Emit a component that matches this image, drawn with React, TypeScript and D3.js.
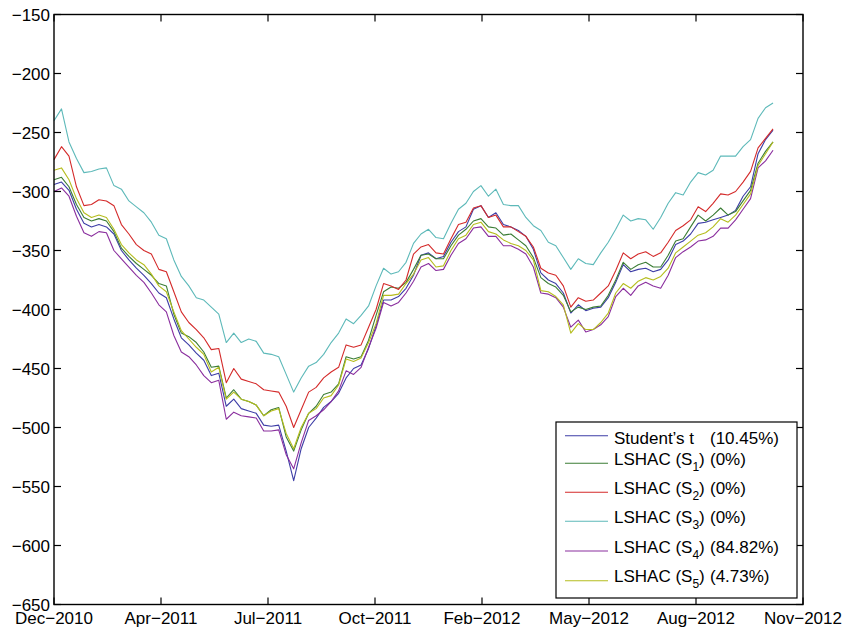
import React from "react";
import * as d3 from "d3";

// weekly samples, first one on the Dec-2010 tick
const startDate = Date.UTC(2010, 11, 30);
const DAY = 864e5;
const stepDays = 7;
const tickStepDays = 100;

const xTickLabels = ["Dec−2010", "Apr−2011", "Jul−2011", "Oct−2011", "Feb−2012", "May−2012", "Aug−2012", "Nov−2012"];
const yTickValues = [-650, -600, -550, -500, -450, -400, -350, -300, -250, -200, -150];

const studentT = [
  -294, -292, -299, -315, -327, -330, -328, -330, -336, -350,
  -358, -365, -371, -378, -386, -390, -408, -424, -430, -437,
  -443, -456, -454, -482, -476, -484, -486, -488, -498, -499,
  -498, -520, -545, -518, -500, -492, -483, -478, -471, -458,
  -450, -447, -433, -414, -392, -392, -389, -382, -371, -354,
  -352, -357, -355, -343, -334, -330, -315, -312, -322, -318,
  -328, -330, -333, -338, -349, -369, -375, -378, -386, -403,
  -396, -401, -399, -398, -390, -377, -362, -368, -366, -365,
  -368, -366, -358, -345, -342, -336, -327, -326, -324, -322,
  -320, -316, -304, -296, -268, -256, -248,
];
const lshacS1 = [
  -290, -288, -296, -311, -322, -325, -323, -325, -334, -348,
  -355, -361, -366, -371, -378, -380, -404, -420, -423, -428,
  -436, -449, -448, -475, -468, -476, -478, -481, -490, -485,
  -483, -508, -520, -502, -488, -482, -472, -470, -463, -440,
  -442, -440, -426, -405, -385, -381, -382, -377, -366, -354,
  -353, -357, -357, -346, -337, -332, -325, -323, -330, -331,
  -337, -336, -341, -346, -356, -373, -378, -381, -388, -402,
  -398, -400, -398, -397, -388, -375, -360, -366, -362, -360,
  -364, -364, -354, -342, -340, -330, -320, -325, -320, -314,
  -320, -317, -308, -299, -276, -266, -258,
];
const lshacS2 = [
  -273, -262, -270, -296, -312, -311, -307, -308, -312, -328,
  -336, -345, -350, -353, -366, -368, -385, -402, -411, -417,
  -424, -434, -433, -462, -450, -459, -461, -463, -468, -469,
  -470, -482, -500, -485, -470, -466, -458, -453, -449, -430,
  -432, -430, -415, -400, -378, -380, -383, -375, -353, -347,
  -345, -352, -353, -340, -328, -326, -314, -312, -322, -320,
  -330, -330, -334, -338, -347, -365, -369, -371, -380, -398,
  -390, -393, -392, -386, -380, -367, -352, -357, -353, -351,
  -355, -352, -343, -333, -329, -324, -313, -317, -310, -302,
  -303, -300, -292, -283, -263, -255, -247,
];
const lshacS3 = [
  -240, -230, -258, -272, -284, -283, -281, -280, -295, -298,
  -308, -313, -318, -326, -337, -340, -358, -372, -380, -390,
  -392, -398, -404, -428, -420, -428, -425, -427, -437, -438,
  -440, -455, -470, -458, -448, -445, -438, -428, -420, -408,
  -412, -405, -397, -380, -365, -370, -368, -360, -344, -336,
  -332, -339, -340, -327, -315, -310, -300, -295, -304, -298,
  -311, -312, -312, -322, -329, -333, -343, -346, -356, -366,
  -357, -361, -362, -352, -343, -332, -320, -325, -323, -324,
  -332, -322, -310, -301, -303, -292, -284, -286, -282, -270,
  -270, -270, -262, -256, -238, -229, -225,
];
const lshacS4 = [
  -300, -297, -304, -321, -335, -338, -334, -335, -350, -357,
  -364, -371, -377, -386, -396, -402, -422, -436, -440, -447,
  -456, -462, -460, -493, -487, -490, -491, -492, -503, -503,
  -502, -523, -535, -513, -494, -490, -485, -478, -469, -452,
  -455, -449, -432, -416, -394, -397, -394, -386, -376, -364,
  -361, -367, -366, -354, -344, -340, -331, -330, -338, -338,
  -346, -346, -349, -353, -364, -386, -387, -390, -398, -415,
  -409, -419, -417, -413, -406, -389, -382, -388, -380, -377,
  -380, -382, -371, -356, -351, -347, -342, -341, -338, -331,
  -331, -324, -315, -306, -280, -274, -265,
];
const lshacS5 = [
  -282, -280, -290, -306, -318, -322, -320, -322, -332, -345,
  -352, -358, -362, -370, -380, -385, -402, -418, -425, -432,
  -438, -453, -449, -476, -470, -476, -478, -481, -490, -486,
  -484, -505, -518, -500, -488, -484, -475, -473, -464, -442,
  -444, -441, -428, -412, -388, -388, -387, -378, -370, -358,
  -356, -364, -363, -350, -340, -337, -328, -326, -334, -336,
  -341, -344, -346, -350, -358, -384, -385, -389, -396, -420,
  -412, -417, -417, -411, -403, -386, -378, -382, -376, -373,
  -375, -372, -365, -352, -347, -342, -337, -335, -330, -323,
  -326, -320, -311, -302, -278, -268, -258,
];

const seriesList = [studentT, lshacS1, lshacS2, lshacS3, lshacS4, lshacS5];
const seriesColors = ["#3d3da6", "#3b7d35", "#d42a2a", "#5db9b9", "#8a2e9e", "#b5bd1e"];
const legendNames = ["Student’s t", "LSHAC (S", "LSHAC (S", "LSHAC (S", "LSHAC (S", "LSHAC (S"];
const legendSubs = ["", "1", "2", "3", "4", "5"];
const legendShares = ["(10.45%)", "(0%)", "(0%)", "(0%)", "(84.82%)", "(4.73%)"];

const W = 845;
const H = 630;
const left = 54;
const right = 803;
const top = 14.5;
const bottom = 604.5;
const tickLen = 7;
const font = "'Liberation Sans', Arial, Helvetica, sans-serif";

export default function App() {
  const x = d3
    .scaleUtc()
    .domain([new Date(startDate), new Date(startDate + 7 * tickStepDays * DAY)])
    .range([left, right]);
  const y = d3.scaleLinear().domain([-650, -150]).range([bottom, top]);

  const line = d3
    .line<number>()
    .x((d, i) => x(new Date(startDate + i * stepDays * DAY)))
    .y((d) => y(d));

  const xTicks = xTickLabels.map((label, k) => ({
    label,
    pos: x(new Date(startDate + k * tickStepDays * DAY)),
  }));

  // legend rows (line y), MATLAB puts extra room for subscripts
  const rowY = [435.7, 463.3, 492.3, 521.3, 551, 580.7];
  const textY = [444, 464.5, 493.5, 522.5, 552.5, 582];

  return (
    <svg
      width={W}
      height={H}
      style={{ position: "absolute", left: 0, top: 0, background: "#fff" }}
      fontFamily={font}
    >
      <rect x={0} y={0} width={W} height={H} fill="#fff" />

      <g fill="none" strokeWidth={1.1} strokeLinejoin="round">
        {seriesList.map((s, i) => (
          <path key={i} d={line(s) || ""} stroke={seriesColors[i]} />
        ))}
      </g>

      {/* box and ticks */}
      <rect x={left} y={top} width={right - left} height={bottom - top} fill="none" stroke="#000" strokeWidth={1.4} />
      {yTickValues.map((v) => (
        <g key={v}>
          <line x1={left} x2={left + tickLen} y1={y(v)} y2={y(v)} stroke="#000" strokeWidth={1.2} />
          <line x1={right} x2={right - tickLen} y1={y(v)} y2={y(v)} stroke="#000" strokeWidth={1.2} />
          <text x={left - 4} y={y(v)} dy="0.36em" textAnchor="end" fontSize={17} fill="#000">
            {String(v).replace("-", "\u2212")}
          </text>
        </g>
      ))}
      {xTicks.map((t) => (
        <g key={t.label}>
          <line x1={t.pos} x2={t.pos} y1={bottom} y2={bottom - tickLen} stroke="#000" strokeWidth={1.2} />
          <line x1={t.pos} x2={t.pos} y1={top} y2={top + tickLen} stroke="#000" strokeWidth={1.2} />
          <text x={t.pos} y={624} textAnchor="middle" fontSize={17} fill="#000">
            {t.label}
          </text>
        </g>
      ))}

      {/* legend */}
      <rect x={556} y={422} width={241} height={176} fill="#fff" stroke="#000" strokeWidth={1.2} />
      {seriesList.map((s, i) => (
        <g key={"leg" + i}>
          <line x1={565} x2={608} y1={rowY[i]} y2={rowY[i]} stroke={seriesColors[i]} strokeWidth={1.1} />
          <text x={614} y={textY[i]} fontSize={17} fill="#000">
            {legendNames[i]}
            {legendSubs[i] ? (
              <>
                <tspan fontSize={12} dy={6}>
                  {legendSubs[i]}
                </tspan>
                <tspan dy={-6}>)</tspan>
              </>
            ) : null}
          </text>
          <text x={710} y={textY[i]} fontSize={17} fill="#000">
            {legendShares[i]}
          </text>
        </g>
      ))}
    </svg>
  );
}
